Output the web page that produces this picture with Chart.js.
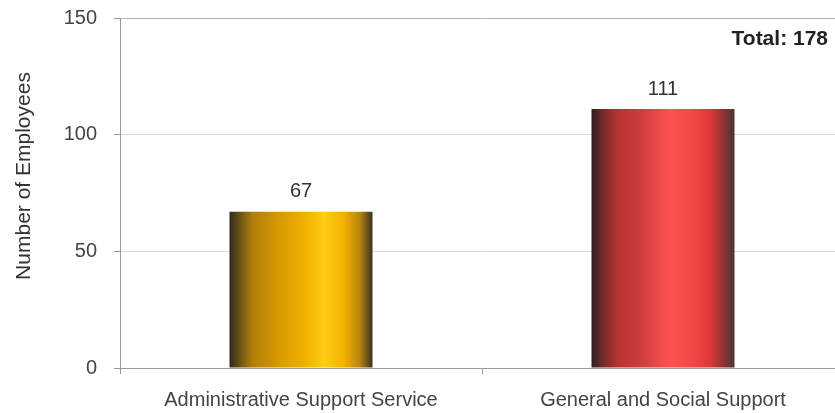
<!DOCTYPE html>
<html>
<head>
<meta charset="utf-8">
<script src="https://cdn.jsdelivr.net/npm/chart.js@4"></script>
<style>
    body { margin: 0; background: #fff; overflow: hidden; }
    /* plot runs a little past the right edge of the window, like the original */
    .container { position: relative; width: 844px; height: 413px; }
</style>
</head>
<body>
<div class="container">
    <canvas id="chart"></canvas>
</div>
<script>

let CATEGORIES = ['Administrative Support Service', 'General and Social Support']
let EMPLOYEES = [67, 111]
let Y_TICKS = [0, 50, 100, 150]
let Y_TITLE = 'Number of Employees'

// colour stops across each bar, left to right
let BAR_STOPS = [
    [[0, '#2e2a1e'], [0.06, '#5e4c18'], [0.16, '#b07e0a'], [0.35, '#d99a00'], [0.55, '#f2b400'], [0.66, '#ffcc14'], [0.8, '#f2b200'], [0.91, '#b8860f'], [1, '#3a3222']],
    [[0, '#2a1e1e'], [0.07, '#6a2a2a'], [0.18, '#b83232'], [0.35, '#d03c3c'], [0.55, '#ff5252'], [0.7, '#f24848'], [0.83, '#de3838'], [0.93, '#8a3232'], [1, '#4a3434']]
]

let FONT = 'Liberation Sans, Arial, sans-serif'

function sum_values(values) {
    let sum = 0
    values.map(v => sum = sum + v)
    return sum
}

// horizontal gradient for the "cylinder" look
let gradientBars = {
    id: 'gradientBars',
    beforeDatasetsDraw(chart) {
        let ctx = chart.ctx
        let meta = chart.getDatasetMeta(0)
        meta.data.forEach((el, i) => {
            let left = el.x - el.width / 2
            let right = el.x + el.width / 2
            let g = ctx.createLinearGradient(left, 0, right, 0)
            BAR_STOPS[i].forEach(s => g.addColorStop(s[0], s[1]))
            el.options = Object.assign({}, el.options, { backgroundColor: g })
        })
    }
}

let valueLabels = {
    id: 'valueLabels',
    afterDatasetsDraw(chart) {
        let ctx = chart.ctx
        let meta = chart.getDatasetMeta(0)
        ctx.save()
        ctx.font = '20px ' + FONT
        ctx.fillStyle = '#333'
        ctx.textAlign = 'center'
        ctx.textBaseline = 'bottom'
        meta.data.forEach((el, i) => {
            ctx.fillText(EMPLOYEES[i], el.x, el.y - 10)
        })
        // total in the top right corner
        ctx.font = 'bold 21px ' + FONT
        ctx.fillStyle = '#222'
        ctx.textAlign = 'right'
        ctx.textBaseline = 'middle'
        ctx.fillText('Total: ' + sum_values(EMPLOYEES), 828, 39)

        // y axis title, sits a bit above the middle of the axis
        ctx.translate(24, 176)
        ctx.rotate(-Math.PI / 2)
        ctx.font = '21px ' + FONT
        ctx.fillStyle = '#333'
        ctx.textAlign = 'center'
        ctx.textBaseline = 'middle'
        ctx.fillText(Y_TITLE, 0, 0)
        ctx.restore()
    }
}

let ctx = document.getElementById('chart').getContext('2d')
let chart = new Chart(ctx, {
    type: 'bar',
    data: {
        labels: CATEGORIES,
        datasets: [{
            data: EMPLOYEES,
            backgroundColor: ['#f2b400', '#e84040'],
            borderWidth: 0,
            barPercentage: 0.395,
            categoryPercentage: 1
        }]
    },
    options: {
        responsive: true,
        maintainAspectRatio: false,
        animation: false,
        layout: { padding: { top: 18, right: 0, bottom: 0, left: 0 } },
        plugins: {
            legend: { display: false },
            tooltip: { enabled: false }
        },
        scales: {
            x: {
                afterFit: s => { s.height = 45; s.paddingLeft = 0; s.paddingRight = 0 },
                grid: {
                    drawOnChartArea: false,
                    tickLength: 6,
                    tickColor: '#999'
                },
                border: { color: '#999' },
                ticks: {
                    padding: 14,
                    color: '#444',
                    font: { family: FONT, size: 20 }
                }
            },
            y: {
                min: Y_TICKS[0],
                max: Y_TICKS[Y_TICKS.length - 1],
                afterFit: s => { s.width = 120; s.paddingTop = 0; s.paddingBottom = 0 },
                afterBuildTicks: s => { s.ticks = Y_TICKS.map(v => ({ value: v })) },
                grid: {
                    color: c => c.tick && c.tick.value == 150 ? '#b4b4b4' : '#d9d9d9',
                    tickLength: 6,
                    tickColor: '#999'
                },
                border: { color: '#999' },
                ticks: {
                    padding: 17,
                    color: '#444',
                    font: { family: FONT, size: 20 }
                }
            }
        }
    },
    plugins: [gradientBars, valueLabels]
})
</script>
</body>
</html>
